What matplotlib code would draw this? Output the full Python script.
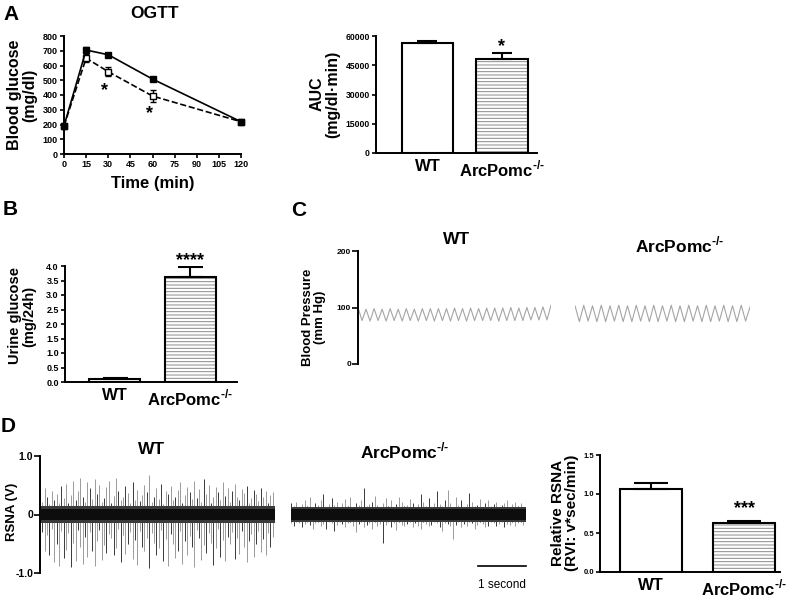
import matplotlib
matplotlib.use('Agg')
import matplotlib.pyplot as plt
import numpy as np

plt.rcParams['font.family'] = 'Liberation Sans'
plt.rcParams['font.weight'] = 'bold'
plt.rcParams['mathtext.fontset'] = 'custom'
plt.rcParams['mathtext.rm'] = 'Liberation Sans:bold'
plt.rcParams['mathtext.bf'] = 'Liberation Sans:bold'
plt.rcParams['hatch.linewidth'] = 0.7

W, H = 787, 604

# ---- data ----
groups = ['WT', r'ArcPomc$^{\text{-/-}}$']

time_min = [0, 15, 30, 60, 120]
glu_wt = [190, 705, 673, 508, 219]
glu_wt_err = [8, 20, 15, 8, 8]
glu_arc = [190, 650, 558, 393, 219]
glu_arc_err = [8, 25, 30, 40, 8]
glu_star_t = [27.5, 58.1]
glu_star_y = [490, 332]

auc_mean = [56400, 48200]
auc_err = [1000, 3200]

urine_mean = [0.11, 3.63]
urine_err = [0.02, 0.32]

rsna_rel_mean = [1.064, 0.624]
rsna_rel_err = [0.08, 0.034]

# blood pressure trace, alternating peak / trough (mm Hg)
bp_wt = [100, 77, 97, 76, 98, 77, 97, 76, 98, 77, 97, 76, 98, 77, 97, 76, 98,
         77, 98, 76, 98, 77, 98, 76, 99, 77, 98, 76, 99, 77, 98, 77, 99, 77,
         99, 76, 99, 77, 100, 77, 99, 77, 100, 78, 100, 78, 101, 78, 104]
bp_arc = [103, 75, 104, 76, 103, 75, 104, 75, 103, 76, 104, 75, 103, 75, 104,
          76, 103, 75, 104, 75, 103, 76, 104, 75, 103, 75, 104, 76, 103, 75,
          104, 75, 103, 76, 104, 75, 103, 75, 104, 76, 101]

# RSNA raw trace: spike peaks (V) above and below baseline
rsna_wt_up = [0.38, 0.22, 0.45, 0.30, 0.18, 0.41, 0.25, 0.35, 0.20, 0.48,
              0.28, 0.52, 0.19, 0.33, 0.58, 0.24, 0.40, 0.62, 0.30, 0.21,
              0.55, 0.45, 0.26, 0.60, 0.35, 0.50, 0.22, 0.28, 0.47, 0.57,
              0.20, 0.32, 0.62, 0.40, 0.25, 0.30, 0.48, 0.36, 0.19, 0.55,
              0.25, 0.42, 0.23, 0.33, 0.50, 0.38, 0.68, 0.21, 0.30, 0.45,
              0.27, 0.52, 0.18, 0.40, 0.35, 0.48, 0.24, 0.30, 0.42, 0.56,
              0.20, 0.33, 0.47, 0.38, 0.26, 0.58, 0.28, 0.44, 0.22, 0.60,
              0.35, 0.50, 0.19, 0.30, 0.47, 0.38, 0.25, 0.55, 0.32, 0.45,
              0.21, 0.40, 0.52, 0.30, 0.24, 0.43, 0.36, 0.48, 0.20, 0.28,
              0.42, 0.35, 0.23, 0.45, 0.30, 0.40, 0.19, 0.33, 0.38, 0.26]
rsna_wt_down = [-0.55, -0.30, -0.62, -0.35, -0.70, -0.25, -0.82, -0.50, -0.88,
                -0.28, -0.75, -0.60, -0.32, -0.90, -0.48, -0.80, -0.26, -0.55,
                -0.85, -0.38, -0.72, -0.30, -0.62, -0.88, -0.45, -0.27, -0.78,
                -0.52, -0.65, -0.33, -0.40, -0.70, -0.58, -0.25, -0.82, -0.35,
                -0.68, -0.50, -0.30, -0.76, -0.44, -0.86, -0.28, -0.55, -0.62,
                -0.40, -0.92, -0.31, -0.48, -0.70, -0.58, -0.26, -0.80, -0.42,
                -0.88, -0.34, -0.50, -0.74, -0.62, -0.29, -0.84, -0.45, -0.70,
                -0.36, -0.55, -0.90, -0.27, -0.40, -0.78, -0.52, -0.66, -0.32,
                -0.48, -0.86, -0.58, -0.25, -0.72, -0.44, -0.80, -0.38, -0.50,
                -0.30, -0.76, -0.40, -0.68, -0.28, -0.55, -0.82, -0.45, -0.33,
                -0.72, -0.50, -0.29, -0.64, -0.42, -0.70, -0.31, -0.55, -0.38,
                -0.60]
rsna_arc_up = [0.20, 0.15, 0.22, 0.12, 0.18, 0.25, 0.14, 0.30, 0.13, 0.20,
               0.17, 0.24, 0.35, 0.12, 0.18, 0.28, 0.16, 0.22, 0.13, 0.19,
               0.26, 0.15, 0.30, 0.12, 0.20, 0.17, 0.25, 0.45, 0.14, 0.18,
               0.22, 0.32, 0.16, 0.13, 0.20, 0.28, 0.15, 0.24, 0.12, 0.18,
               0.30, 0.22, 0.14, 0.16, 0.26, 0.20, 0.13, 0.18, 0.35, 0.22,
               0.15, 0.28, 0.12, 0.20, 0.40, 0.18, 0.14, 0.24, 0.42, 0.20,
               0.13, 0.30, 0.16, 0.25, 0.12, 0.18, 0.36, 0.22, 0.15, 0.17,
               0.26, 0.13, 0.20, 0.24, 0.14, 0.18, 0.22, 0.12, 0.16, 0.20,
               0.25, 0.13, 0.18, 0.22, 0.15, 0.20, 0.12, 0.18]
rsna_arc_down = [-0.15, -0.20, -0.12, -0.14, -0.22, -0.16, -0.13, -0.18,
                 -0.25, -0.15, -0.12, -0.20, -0.17, -0.24, -0.13, -0.15,
                 -0.28, -0.18, -0.12, -0.16, -0.22, -0.15, -0.13, -0.20,
                 -0.30, -0.16, -0.12, -0.22, -0.18, -0.15, -0.24, -0.13,
                 -0.20, -0.16, -0.48, -0.18, -0.12, -0.22, -0.15, -0.26,
                 -0.13, -0.18, -0.20, -0.16, -0.12, -0.22, -0.15, -0.19,
                 -0.24, -0.13, -0.16, -0.20, -0.18, -0.12, -0.15, -0.22,
                 -0.28, -0.14, -0.17, -0.20, -0.42, -0.18, -0.12, -0.22,
                 -0.16, -0.20, -0.13, -0.15, -0.24, -0.18, -0.12, -0.16,
                 -0.22, -0.19, -0.13, -0.15, -0.20, -0.17, -0.12, -0.22,
                 -0.16, -0.18, -0.13, -0.20, -0.15, -0.12, -0.18, -0.15]
rsna_wt_band = 0.09
rsna_wt_fuzz = 0.15
rsna_arc_band = 0.09
rsna_arc_fuzz = 0.13
trace_dur_sec = 4.9
scalebar_sec = 1.0


def box(l, t, r, b):
    return [l / W, 1 - b / H, (r - l) / W, (b - t) / H]


def ftext(x, y, s, **kw):
    fig.text(x / W, 1 - y / H, s, **kw)


def style(ax, labelsize=6.5):
    for s in ['top', 'right']:
        ax.spines[s].set_visible(False)
    for s in ['left', 'bottom']:
        ax.spines[s].set_linewidth(1.4)
    ax.tick_params(width=1.2, length=3, labelsize=labelsize, pad=1.5)


def bar_panel(ax, means, errs, width, capsize):
    x = [0, 1]
    ax.bar(x[0], means[0], width=width, color='white', edgecolor='black', lw=1.5)
    ax.bar(x[1], means[1], width=width, color='white', edgecolor='#8a8a8a',
           lw=0, hatch='-----')
    ax.bar(x[1], means[1], width=width, fill=False, edgecolor='black', lw=1.5)
    ax.errorbar(x, means, yerr=[[0, 0], errs], fmt='none', ecolor='black',
                elinewidth=1.5, capsize=capsize, capthick=1.5)
    ax.set_xticks(x)
    ax.set_xticklabels(groups, fontsize=12)
    ax.tick_params(axis='x', length=0, pad=4)


fig = plt.figure(figsize=(W / 100, H / 100), dpi=100)

# ---- A: OGTT ----
ax = fig.add_axes(box(64, 36, 241, 154))
style(ax)
ax.errorbar(time_min, glu_arc, yerr=glu_arc_err, color='black', lw=1.2,
            ls='--', marker='s', ms=4.5, mfc='white', mec='black', mew=1,
            capsize=2, elinewidth=1, clip_on=False, zorder=4)
ax.errorbar(time_min, glu_wt, yerr=glu_wt_err, color='black', lw=1.2,
            marker='s', ms=5, mfc='black', mec='black', capsize=2,
            elinewidth=1, clip_on=False, zorder=5)
for t, y in zip(glu_star_t, glu_star_y):
    ax.text(t, y, '*', ha='center', va='top', fontsize=13)
ax.set_xlim(0, 120)
ax.set_ylim(0, 800)
ax.set_xticks(range(0, 121, 15))
ax.set_yticks(range(0, 801, 100))

ftext(3, 5, 'A', fontsize=15, va='top')
ftext(155, 13, 'OGTT', fontsize=12.5, ha='center', va='center')
ftext(22, 95, 'Blood glucose\n(mg/dl)', fontsize=11.5, rotation=90,
      ha='center', va='center', linespacing=1.0)
ftext(153, 183, 'Time (min)', fontsize=12, ha='center', va='center')

# ---- A: AUC ----
ax = fig.add_axes(box(376, 36, 537, 153))
style(ax, 6.2)
bar_panel(ax, auc_mean, auc_err, 0.685, 7)
ax.text(1, 59100, '*', ha='center', va='top', fontsize=13)
ax.set_xlim(-0.691, 1.47)
ax.set_ylim(0, 60000)
ax.set_yticks(range(0, 60001, 15000))
ftext(325, 94, 'AUC\n(mg/dl·min)', fontsize=11.5, rotation=90,
      ha='center', va='center', linespacing=1.0)

# ---- B: urine glucose ----
ax = fig.add_axes(box(65, 266, 237, 382))
style(ax, 6.5)
bar_panel(ax, urine_mean, urine_err, 0.675, 9)
ax.text(1, 4.49, '****', ha='center', va='top', fontsize=13)
ax.set_xlim(-0.656, 1.62)
ax.set_ylim(0, 4)
ax.set_yticks(np.arange(0, 4.01, 0.5))
ax.set_yticklabels([f'{v:.1f}' for v in np.arange(0, 4.01, 0.5)])
ftext(3, 200, 'B', fontsize=15, va='top')
ftext(22, 316, 'Urine glucose\n(mg/24h)', fontsize=10.5, rotation=90,
      ha='center', va='center', linespacing=1.0)

# ---- C: blood pressure traces ----
ax = fig.add_axes(box(358, 251, 551, 364))
for s in ['top', 'right', 'bottom']:
    ax.spines[s].set_visible(False)
ax.spines['left'].set_linewidth(1.4)
ax.tick_params(axis='y', width=1.2, length=4, labelsize=6, pad=1)
ax.set_xticks([])
ax.plot(range(len(bp_wt)), bp_wt, color='#a5a5a5', lw=0.8)
ax.set_xlim(0, len(bp_wt) - 1)
ax.set_ylim(0, 200)
ax.set_yticks([0, 100, 200])

ax = fig.add_axes(box(575, 251, 750, 364))
ax.axis('off')
ax.plot(range(len(bp_arc)), bp_arc, color='#a5a5a5', lw=0.8)
ax.set_xlim(0, len(bp_arc) - 1)
ax.set_ylim(0, 200)

ftext(291, 201, 'C', fontsize=15, va='top')
ftext(457, 240, 'WT', fontsize=12.5, ha='center', va='center')
ftext(680, 245, groups[1], fontsize=12.5, ha='center', va='center')
ftext(314, 317, 'Blood Pressure\n(mm Hg)', fontsize=9.5, rotation=90,
      ha='center', va='center', linespacing=1.0)


# ---- D: RSNA traces ----
def rsna_trace(ax, up, down, band, fuzz):
    t_up = np.linspace(0, trace_dur_sec, len(up))
    t_dn = np.linspace(0, trace_dur_sec, len(down))
    c_up = ['#1a1a1a' if i % 3 == 0 else '#8a8a8a' for i in range(len(up))]
    c_dn = ['#1a1a1a' if i % 3 == 1 else '#8a8a8a' for i in range(len(down))]
    ax.vlines(t_up, 0, up, colors=c_up, lw=0.6, zorder=1)
    ax.vlines(t_dn, down, 0, colors=c_dn, lw=0.6, zorder=1)
    ax.fill_between([0, trace_dur_sec], -fuzz, fuzz, color='#3a3a3a', lw=0,
                    zorder=2)
    ax.fill_between([0, trace_dur_sec], -band, band, color='#0d0d0d', lw=0,
                    zorder=3)
    ax.set_xlim(0, trace_dur_sec)
    ax.set_ylim(-1, 1)


ax = fig.add_axes(box(40, 456, 275, 573))
for s in ['top', 'right', 'bottom']:
    ax.spines[s].set_visible(False)
ax.spines['left'].set_linewidth(1.4)
ax.tick_params(axis='y', width=1.2, length=4, labelsize=7.5, pad=1)
ax.set_xticks([])
rsna_trace(ax, rsna_wt_up, rsna_wt_down, rsna_wt_band, rsna_wt_fuzz)
ax.set_yticks([-1, 0, 1])
ax.set_yticklabels(['-1.0', '0', '1.0'])

ax = fig.add_axes(box(291, 456, 526, 573))
ax.axis('off')
rsna_trace(ax, rsna_arc_up, rsna_arc_down, rsna_arc_band, rsna_arc_fuzz)
ax.plot([trace_dur_sec - scalebar_sec, trace_dur_sec], [-0.88, -0.88],
        color='black', lw=1.2, clip_on=False)
ax.text(trace_dur_sec - scalebar_sec / 2, -1.2, '1 second', ha='center',
        va='center', fontsize=8.5, fontweight='normal')

ftext(1, 417, 'D', fontsize=15, va='top')
ftext(152, 449, 'WT', fontsize=12.5, ha='center', va='center')
ftext(405, 451, groups[1], fontsize=12.5, ha='center', va='center')
ftext(12.5, 512, 'RSNA (V)', fontsize=9.5, rotation=90, ha='center',
      va='center')

# ---- D: relative RSNA ----
ax = fig.add_axes(box(600, 455, 780, 572))
style(ax, 5.5)
ax.tick_params(axis='y', pad=1)
bar_panel(ax, rsna_rel_mean, rsna_rel_err, 0.667, 12)
ax.text(1, 0.923, '***', ha='center', va='top', fontsize=13)
ax.set_xlim(-0.548, 1.387)
ax.set_ylim(0, 1.5)
ax.set_yticks([0, 0.5, 1.0, 1.5])
ax.set_yticklabels(['0.0', '0.5', '1.0', '1.5'])
ftext(565, 513, 'Relative RSNA\n(RVI: v*sec/min)', fontsize=11,
      rotation=90, ha='center', va='center', linespacing=1.0)

fig.savefig('out.png', dpi=100)
